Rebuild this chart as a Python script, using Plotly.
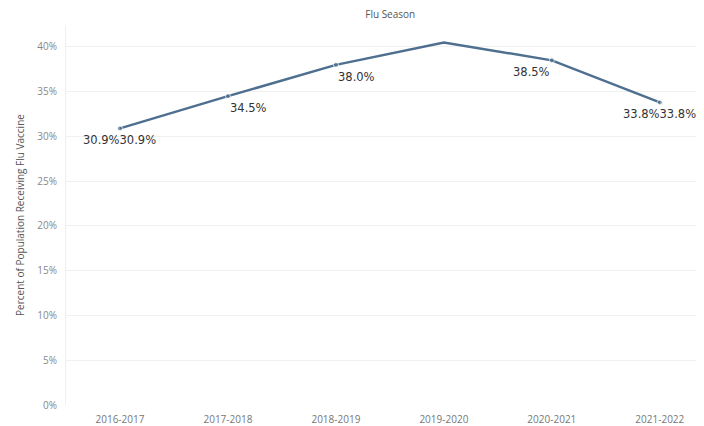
import plotly.graph_objects as go

seasons = ["2016-2017", "2017-2018", "2018-2019", "2019-2020", "2020-2021", "2021-2022"]
pct = [30.9, 34.5, 38.0, 40.5, 38.5, 33.8]
labels = ["30.9%30.9%", "34.5%", "38.0%", "", "38.5%", "33.8%33.8%"]
label_anchor = ["center", "left", "left", "center", "right", "center"]
y_ticks = [0, 5, 10, 15, 20, 25, 30, 35, 40]
y_ticktext = [f"{v}%" for v in y_ticks]

x_idx = list(range(len(seasons)))

fig = go.Figure()
fig.add_trace(go.Scatter(
    x=x_idx, y=pct,
    mode="lines+markers",
    line=dict(color="#4e6f8f", width=2.5),
    marker=dict(color="#4e6f8f", size=[5, 5, 5, 0, 5, 5]),
    hoverinfo="skip", showlegend=False,
))

for xi, yv, lab, anc in zip(x_idx, pct, labels, label_anchor):
    if not lab:
        continue
    fig.add_annotation(
        x=xi, y=yv, xref="x", yref="y", text=lab, showarrow=False,
        xanchor=anc, yanchor="middle", yshift=-12, xshift=0,
        font=dict(family="DejaVu Sans", size=11.5, color="#333333"),
    )

# page body has an 8px default margin, so the figure is sized to fill the rest
fig.update_layout(
    width=696, height=418,
    margin=dict(l=58, r=1, t=17, b=21, autoexpand=False),
    paper_bgcolor="white", plot_bgcolor="white",
    title=dict(text="Flu Season", x=0.509, xanchor="center", xref="paper",
               y=1 - 6 / 418, yref="container", yanchor="middle",
               font=dict(family="Open Sans", size=10, color="#555")),
    font=dict(family="Open Sans", color="#888"),
)
fig.update_xaxes(
    range=[-0.5, 5.4], tickmode="array", tickvals=x_idx, ticktext=seasons,
    showgrid=False, zeroline=False, showline=False, ticks="", automargin=False,
    ticklabelstandoff=7,
    tickfont=dict(family="Open Sans", size=10, color="#777"),
)
fig.update_yaxes(
    range=[0, 42.45], tickmode="array", tickvals=y_ticks, ticktext=y_ticktext,
    showgrid=True, gridcolor="#f0f0f0", gridwidth=1, automargin=False,
    zeroline=False, showline=True, linecolor="#f0f0f0", ticks="",
    tickfont=dict(family="Open Sans", size=10, color="#888"),
    ticklabelstandoff=6,
    title=dict(text="Percent of Population Receiving Flu Vaccine", standoff=10,
               font=dict(family="Open Sans", size=10, color="#555")),
)

fig.write_html("out.html")
